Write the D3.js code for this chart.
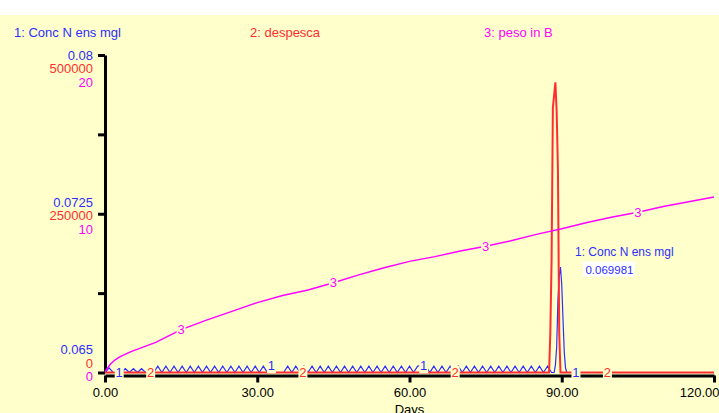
<!DOCTYPE html>
<html>
<head>
<meta charset="utf-8">
<script src="https://cdn.jsdelivr.net/npm/d3@7"></script>
<style>
body { margin: 0; background: #fff; }
svg { display: block; font-family: "Liberation Sans", Arial, sans-serif; }
</style>
</head>
<body>
<svg width="719" height="413"></svg>
<script>
var W = 719, H = 413;
var svg = d3.select("svg");

// titles and colours of the three series
var seriesNames = ["1: Conc N ens mgl", "2: despesca", "3: peso in B"];
var seriesColors = ["#2e2eff", "#ff2e2e", "#ff00ff"];

// tick values
var xTicks = [0, 30, 60, 90, 120];
var concTicks = [0.065, 0.0725, 0.08];
var despTicks = [0, 250000, 500000];
var pesoTicks = [0, 10, 20];
var gridSteps = [0, 5, 10, 15, 20];

// 1: Conc N ens mgl, saved every 0.8 days up to day 88
var CONC_DT = 0.8;
var concZigzag = [
  0.065, 0.06522, 0.065, 0.065, 0.065, 0.06518, 0.065, 0.06518, 0.065, 0.06518,
  0.065, 0.065, 0.065, 0.0653, 0.065, 0.0653, 0.065, 0.0653, 0.065, 0.0653,
  0.065, 0.0653, 0.065, 0.0653, 0.065, 0.0653, 0.065, 0.0653, 0.065, 0.0653,
  0.065, 0.0653, 0.065, 0.0653, 0.065, 0.0653, 0.065, 0.0653, 0.065, 0.0653,
  0.065, 0.06532, 0.065, 0.065, 0.065, 0.0653, 0.065, 0.0653, 0.065, 0.0653,
  0.065, 0.0653, 0.065, 0.0653, 0.065, 0.0653, 0.065, 0.0653, 0.065, 0.0653,
  0.065, 0.0653, 0.065, 0.0653, 0.065, 0.0653, 0.065, 0.0653, 0.065, 0.0653,
  0.065, 0.0653, 0.065, 0.0653, 0.065, 0.0653, 0.065, 0.0653, 0.06532, 0.06532,
  0.065, 0.0653, 0.065, 0.0653, 0.065, 0.0653, 0.065, 0.0653, 0.065, 0.0653,
  0.065, 0.0653, 0.065, 0.0653, 0.065, 0.0653, 0.065, 0.0653, 0.065, 0.0653,
  0.065, 0.0653, 0.065, 0.0653, 0.065, 0.0653, 0.065, 0.0653, 0.065, 0.0653,
  0.065
];
// the peak around harvest, [day, value]
var concSpike = [
  [88.5, 0.065], [88.75, 0.06535], [89, 0.06620], [89.25, 0.06844], [89.5, 0.06953],
  [89.75, 0.069981], [90, 0.06915], [90.25, 0.0675], [90.5, 0.06594], [90.75, 0.06520],
  [91, 0.065], [120, 0.065]
];

// 2: despesca, [day, value]
var despesca = [
  [0, 0], [87.5, 0], [87.75, 63000], [88, 178000], [88.25, 417000], [88.5, 437000],
  [88.75, 457000], [89, 410000], [89.25, 319000], [89.5, 63000], [89.75, 0], [120, 0]
];

// 3: peso in B, [day, value]
var peso = [
  [0, 0.05], [1, 0.5], [2, 0.8], [3, 1.0], [5, 1.3], [10, 1.9], [15, 2.7], [20, 3.3],
  [25, 3.85], [30, 4.4], [35, 4.85], [40, 5.2], [45, 5.65], [50, 6.15], [55, 6.6],
  [60, 7.0], [65, 7.3], [70, 7.65], [75, 7.95], [80, 8.3], [85, 8.7], [90, 9.05],
  [95, 9.45], [100, 9.8], [105, 10.1], [110, 10.45], [115, 10.75], [120, 11.05]
];

// where the series numbers sit on the lines
var concLabelDays = [2.8, 32.8, 62.8, 92.8];
var despLabelDays = [9, 39, 69, 99];
var pesoLabelDays = [15, 45, 75, 105];

var bg = "#ffffcc";

var x = d3.scaleLinear([0, 120], [105, 714]);
var yC = d3.scaleLinear([concTicks[0], concTicks[2]], [372.5, 55]);
var yD = d3.scaleLinear([despTicks[0], despTicks[2]], [372.5, 55]);
var yP = d3.scaleLinear([pesoTicks[0], pesoTicks[2]], [372.5, 55]);

svg.append("rect").attr("x", 0).attr("y", 15).attr("width", W).attr("height", H - 15).attr("fill", bg);

// legend across the top
var legendX = [14, 250, 484];
svg.selectAll(".legend")
  .data(seriesNames)
  .enter().append("text")
  .attr("class", "legend")
  .attr("x", function(d, i) { return legendX[i]; })
  .attr("y", 36.5)
  .attr("font-size", 13)
  .attr("fill", function(d, i) { return seriesColors[i]; })
  .text(function(d) { return d; });

// axes
var gy = svg.append("g").attr("transform", "translate(105,0)")
  .call(d3.axisLeft(yP).tickValues(gridSteps).tickSize(7).tickSizeOuter(0).tickFormat(""));
gy.select(".domain").attr("stroke", "#000").attr("stroke-width", 3);
gy.selectAll(".tick line").attr("stroke", "#000").attr("stroke-width", 3);

var gx = svg.append("g").attr("transform", "translate(0,375.5)")
  .call(d3.axisBottom(x).tickValues(xTicks).tickSize(7).tickSizeOuter(0).tickFormat(d3.format(".2f")));
gx.select(".domain").attr("stroke", "#000").attr("stroke-width", 3);
gx.selectAll(".tick line").attr("stroke", "#000").attr("stroke-width", 3);
gx.selectAll(".tick text").attr("font-size", 13).attr("font-family", "Liberation Sans, Arial, sans-serif")
  .attr("fill", "#000").attr("y", 12)
  .filter(function(d) { return d === xTicks[xTicks.length - 1]; })
  .attr("text-anchor", "end").attr("x", W - x(xTicks[xTicks.length - 1]));

svg.append("text").attr("x", x(60)).attr("y", 414).attr("text-anchor", "middle")
  .attr("font-size", 13).attr("fill", "#000").text("Days");

// stacked y labels: blue, red, magenta
pesoTicks.forEach(function(p, i) {
  var f = i / (pesoTicks.length - 1);
  var c = yP(p) - 23 * (1 - f);
  var rows = [[concTicks[i], seriesColors[0]], [despTicks[i], seriesColors[1]], [p, seriesColors[2]]];
  rows.forEach(function(r, j) {
    svg.append("text")
      .attr("x", 93).attr("y", c + j * 13.5 + 4.5)
      .attr("text-anchor", "end").attr("font-size", 13)
      .attr("fill", r[1]).text(String(r[0]));
  });
});

// lines
var concData = concZigzag.map(function(v, i) { return [i * CONC_DT, v]; }).concat(concSpike);

function lineFor(ys) {
  return d3.line().x(function(d) { return x(d[0]); }).y(function(d) { return ys(d[1]); });
}

svg.append("path").datum(concData).attr("d", lineFor(yC))
  .attr("fill", "none").attr("stroke", seriesColors[0]).attr("stroke-width", 1.2);
svg.append("path").datum(despesca).attr("d", lineFor(yD))
  .attr("fill", "none").attr("stroke", seriesColors[1]).attr("stroke-width", 2);
svg.append("path").datum(peso).attr("d", lineFor(yP))
  .attr("fill", "none").attr("stroke", seriesColors[2]).attr("stroke-width", 1.5);

// value of a series on a given day
function valueAt(data, day) {
  var i = d3.bisector(function(d) { return d[0]; }).left(data, day);
  if (i <= 0) return data[0][1];
  if (i >= data.length) return data[data.length - 1][1];
  var a = data[i - 1], b = data[i];
  return a[1] + (b[1] - a[1]) * (day - a[0]) / (b[0] - a[0]);
}

function seriesLabels(days, data, ys, txt, color) {
  days.forEach(function(day) {
    var px = x(day), py = ys(valueAt(data, day));
    svg.append("rect").attr("x", px - 4.5).attr("y", py - 6.5)
      .attr("width", 9).attr("height", 14).attr("fill", bg);
    svg.append("text").attr("x", px).attr("y", py + 4.5)
      .attr("text-anchor", "middle").attr("font-size", 13)
      .attr("fill", color).text(txt);
  });
}
seriesLabels(concLabelDays, concData, yC, "1", seriesColors[0]);
seriesLabels(despLabelDays, despesca, yD, "2", seriesColors[1]);
seriesLabels(pesoLabelDays, peso, yP, "3", seriesColors[2]);

// readout at the concentration peak
var peak = d3.greatest(concSpike, function(d) { return d[1]; });
var ax = x(peak[0]), ay = yC(peak[1]);
svg.append("text").attr("x", ax + 14.5).attr("y", ay - 11.5)
  .attr("font-size", 12).attr("fill", seriesColors[0]).text(seriesNames[0]);
svg.append("rect").attr("x", ax + 22.5).attr("y", ay - 5.5)
  .attr("width", 52).attr("height", 15).attr("fill", "#fff");
svg.append("text").attr("x", ax + 25).attr("y", ay + 6.5)
  .attr("font-size", 11.5).attr("fill", seriesColors[0]).text(String(peak[1]));
</script>
</body>
</html>
